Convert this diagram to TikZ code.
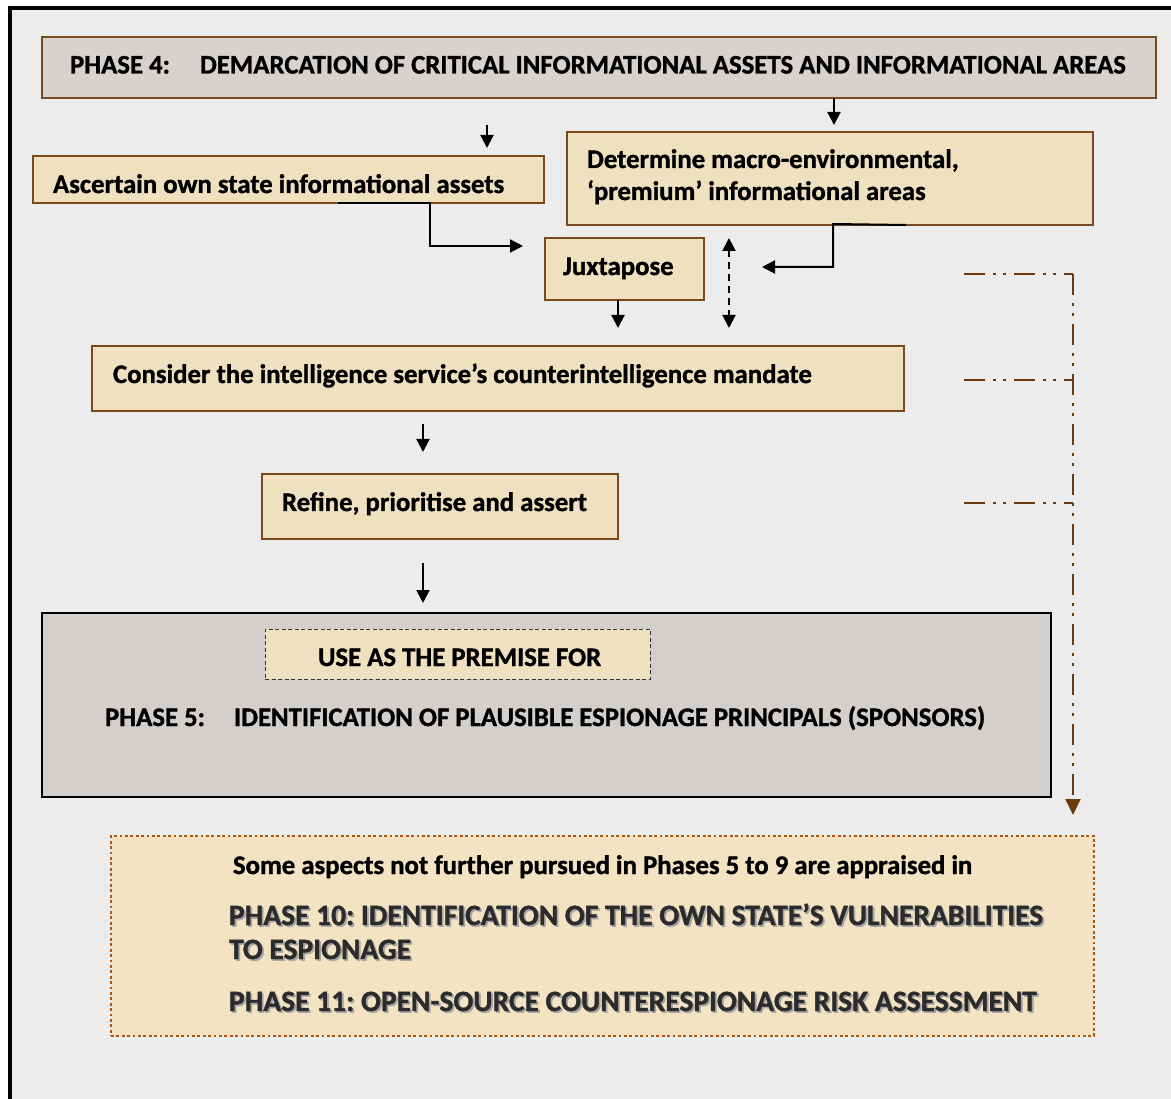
\documentclass[tikz,border=0pt]{standalone}
\usepackage{fontspec}
\setmainfont{Carlito}[BoldFeatures={FakeBold=1.2}]
\usetikzlibrary{arrows.meta}

\definecolor{paper}{HTML}{ECECEC}
\definecolor{parch}{HTML}{EFE0BF}
\definecolor{parchlight}{HTML}{F3E3C2}
\definecolor{stone}{HTML}{D7D2CD}
\definecolor{stonedark}{HTML}{D3CFCC}
\definecolor{brownline}{HTML}{7A4A1E}
\definecolor{rust}{HTML}{6B3A0C}
\definecolor{ochre}{HTML}{B0560E}
\definecolor{inkgrey}{HTML}{2B2B2B}

% text with a soft drop shadow
\newcommand\shadowed[1]{\leavevmode\rlap{\kern1.8pt\raisebox{-1.8pt}{\color{gray!70}#1}}{\color{inkgrey}#1}}

\begin{document}
\frenchspacing
\begin{tikzpicture}[x=1pt,y=-1pt,
  every node/.style={inner sep=0pt, outer sep=0pt},
  boxbase/.style={anchor=north west, minimum width=#1},
  stonebox/.style={draw=brownline, line width=1.4pt, fill=stone},
  tanbox/.style={draw=brownline, line width=1.4pt, fill=parch},
  phasebox/.style={draw=black, line width=1.2pt, fill=stonedark},
  premisebox/.style={draw=black!80, line width=0.8pt, dash pattern=on 4pt off 2.5pt, fill=parch},
  notebox/.style={draw=ochre, line width=2.8pt, dash pattern=on 2.8pt off 2.6pt, fill=parchlight},
  txt/.style={anchor=base west, font=\fontsize{26.75}{32}\selectfont\bfseries},
  bigtxt/.style={anchor=base west, font=\fontsize{29.5}{34}\selectfont\bfseries},
  arr/.style={line width=2pt, -{Triangle[length=13pt,width=13pt]}},
  dasharr/.style={line width=2pt, dash pattern=on 7pt off 5pt, {Triangle[length=13pt,width=13pt]}-{Triangle[length=13pt,width=13pt]}},
  feed/.style={draw=rust, line width=2pt, dash pattern=on 21pt off 8pt on 3pt off 7pt on 3pt off 8pt},
  feedarr/.style={feed, -{Triangle[length=16pt,width=15pt]}, rust},
]
\useasboundingbox (0,0) rectangle (1171,1099);

% paper and frame
\fill[white] (0,0) rectangle (1171,1099);
\fill[paper] (10,8) rectangle (1171,1099);
\draw[line width=4pt] (9.5,1099) -- (9.5,8.5) -- (1171,8.5);

% boxes
\node[stonebox, boxbase=1114pt, minimum height=61pt] (p4) at (42,37) {};
\node[tanbox, boxbase=511pt, minimum height=47pt] (asc) at (33,156) {};
\node[tanbox, boxbase=526pt, minimum height=93pt] (det) at (567,132) {};
\node[tanbox, boxbase=159pt, minimum height=62pt] (jux) at (545,238) {};
\node[tanbox, boxbase=812pt, minimum height=65pt] (cons) at (92,346) {};
\node[tanbox, boxbase=356pt, minimum height=65pt] (ref) at (262,474) {};
\node[phasebox, boxbase=1009pt, minimum height=184pt] (p5) at (42,613) {};
\node[premisebox, boxbase=385pt, minimum height=50pt] (prem) at (265,629) {};
\node[notebox, boxbase=983pt, minimum height=200pt] (note) at (111,836) {};

% texts
\node[txt] (p4t) at (70,73.5) {\makebox[130pt][l]{PHASE 4:}DEMARCATION OF CRITICAL INFORMATIONAL ASSETS AND INFORMATIONAL AREAS};
\node[txt] (asct) at (53,193) {Ascertain own state informational assets};
\node[txt] (dett1) at (587,168) {Determine macro-environmental,};
\node[txt] (dett2) at (587,200) {‘premium’ informational areas};
\node[txt] (juxt) at (563,275) {Juxtapose};
\node[txt] (const) at (113,383) {Consider the intelligence service’s counterintelligence mandate};
\node[txt] (reft) at (282,511) {Refine, prioritise and assert};
\node[txt] (premt) at (318,666) {USE AS THE PREMISE FOR};
\node[txt] (p5t) at (105,726) {\makebox[129pt][l]{PHASE 5:}IDENTIFICATION OF PLAUSIBLE ESPIONAGE PRINCIPALS (SPONSORS)};
\node[txt] (notet) at (233,874) {Some aspects not further pursued in Phases 5 to 9 are appraised in};
\node[bigtxt] (p10a) at (229,925) {\shadowed{PHASE 10: IDENTIFICATION OF THE OWN STATE’S VULNERABILITIES}};
\node[bigtxt] (p10b) at (229,959) {\shadowed{TO ESPIONAGE}};
\node[bigtxt] (p11) at (229,1011) {\shadowed{PHASE 11: OPEN-SOURCE COUNTERESPIONAGE RISK ASSESSMENT}};

% helper coordinates
\coordinate (xa) at (834,0);
\coordinate (xb) at (487,125);
\coordinate (xc) at (338,0);
\coordinate (xd) at (906,0);
\coordinate (jin) at (762,267);
\coordinate (xj) at (618,0);
\coordinate (dtop) at (729,238);
\coordinate (dbot) at (729,328);
\coordinate (xk) at (423,0);
\coordinate (fx) at (1073,0);
\coordinate (f1) at (964,274);
\coordinate (f2) at (964,380);
\coordinate (f3) at (964,503);

% main flow
\draw[arr, shorten >=7pt] (xa |- p4.south) -- (xa |- det.north);
\draw[arr, shorten >=8pt] (xb) -- (xb |- asc.north);
\draw[arr, shorten >=22pt] (xc |- asc.south) -- (430,203) -- (430,246) -- (jux.west |- 0,246);
\draw[arr] (xd |- det.south) -- (833,224) -- (833,267) -- (jin);
\draw[arr, shorten >=18pt] (xj |- jux.south) -- (xj |- cons.north);
\draw[dasharr] (dtop) -- (dbot);
\draw[arr, shorten <=13pt, shorten >=22pt] (xk |- cons.south) -- (xk |- ref.north);
\draw[arr, shorten <=24pt, shorten >=10pt] (xk |- ref.south) -- (xk |- p5.north);

% side feed to the later phases
\draw[feed] (f1) -- (fx |- f1);
\draw[feed] (f2) -- (fx |- f2);
\draw[feed] (f3) -- (fx |- f3);
\draw[feedarr, shorten >=21pt] (fx |- f1) -- (fx |- note.north);
\end{tikzpicture}
\end{document}
